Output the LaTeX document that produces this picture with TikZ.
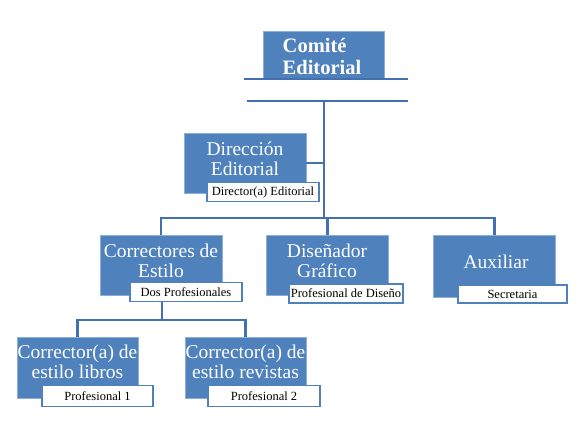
\documentclass[tikz,border=0pt]{standalone}
\usepackage{fontspec}
\setmainfont{Liberation Serif}
\definecolor{boxblue}{RGB}{79,129,189}
\definecolor{boxedge}{RGB}{140,175,215}
\definecolor{linkblue}{RGB}{66,112,176}
\begin{document}
\begin{tikzpicture}[x=1pt,y=-1pt,
  mainbox/.style={draw=boxedge,line width=0.9pt,fill=boxblue,inner sep=0pt,minimum width=122pt,minimum height=60pt},
  subbox/.style={draw=boxblue,line width=1.6pt,fill=white,inner sep=0pt,minimum height=19pt,
     font=\fontsize{12.5}{14}\selectfont,text=black},
  maintext/.style={text=white,align=center,inner sep=0pt,font=\fontsize{19.5}{20.5}\selectfont},
  conn/.style={draw=linkblue,line width=2.8pt},
  thinconn/.style={draw=linkblue,line width=1.6pt}]
\useasboundingbox (0,0) rectangle (579,440);
\fill[white] (0,0) rectangle (579,440);

% Comite Editorial
\node[draw=boxedge,line width=0.9pt,fill=boxblue,inner sep=0pt,minimum width=121pt,minimum height=48pt] (com) at (323.5,55) {};
\node[text=white,align=left,inner sep=0pt,font=\bfseries\fontsize{20.5}{22}\selectfont] (comt) at (322,56) {Comité\\Editorial};
\coordinate (l1a) at (244,79);
\coordinate (l1b) at (408,79);
\coordinate (l2a) at (247,101);
\coordinate (l2b) at (408,101);
\coordinate (t1) at (324,101);
\coordinate (t2) at (324,218);

% Direccion Editorial
\node[mainbox] (dir) at (245,163) {};
\node[maintext] (dirt) at (245,159) {Dirección\\Editorial};
\node[subbox,minimum width=112pt] (dirs) at (263,192) {Director(a) Editorial};

% second level
\node[mainbox] (cor) at (161,265) {};
\node[maintext] (cort) at (161,261) {Correctores de\\Estilo};
\node[subbox,minimum width=112pt] (cors) at (186,292) {Dos Profesionales};

\node[mainbox] (dis) at (327.5,265) {};
\node[maintext] (dist) at (327,261) {Diseñador\\Gráfico};
\node[subbox,minimum width=114pt] (diss) at (346,293.5) {Profesional de Diseño};

\node[mainbox,minimum height=62pt] (aux) at (494.5,266) {};
\node[maintext] (auxt) at (496,262) {Auxiliar};
\node[subbox,minimum width=109pt,minimum height=18pt] (auxs) at (512.5,294) {Secretaria};

% third level
\node[mainbox,minimum width=121pt,minimum height=61pt] (lib) at (77.5,367.5) {};
\node[maintext] (libt) at (77.5,362) {Corrector(a) de\\estilo libros};
\node[subbox,minimum width=111pt,minimum height=21pt] (libs) at (97.5,396) {Profesional 1};

\node[mainbox,minimum width=121pt,minimum height=61pt] (rev) at (245.5,367.5) {};
\node[maintext] (revt) at (245.5,362) {Corrector(a) de\\estilo revistas};
\node[subbox,minimum width=112pt,minimum height=21pt] (revs) at (264,396) {Profesional 2};

\coordinate (jb) at (162,320);

% connectors
\draw[thinconn] (l1a) -- (l1b);
\draw[thinconn] (l2a) -- (l2b);
\draw[conn] (t1) -- (t2);
\draw[conn] (dir.east) -- (dir.east -| t1);
\draw[conn] (cor.north) -- (cor.north |- t2) -- (aux.north |- t2) -- (aux.north);
\draw[conn] (dis.north) -- (dis.north |- t2);
\draw[conn] (cors.south -| jb) -- (jb);
\draw[conn] (lib.north) -- (lib.north |- jb) -- (rev.north |- jb) -- (rev.north);
\end{tikzpicture}
\end{document}
